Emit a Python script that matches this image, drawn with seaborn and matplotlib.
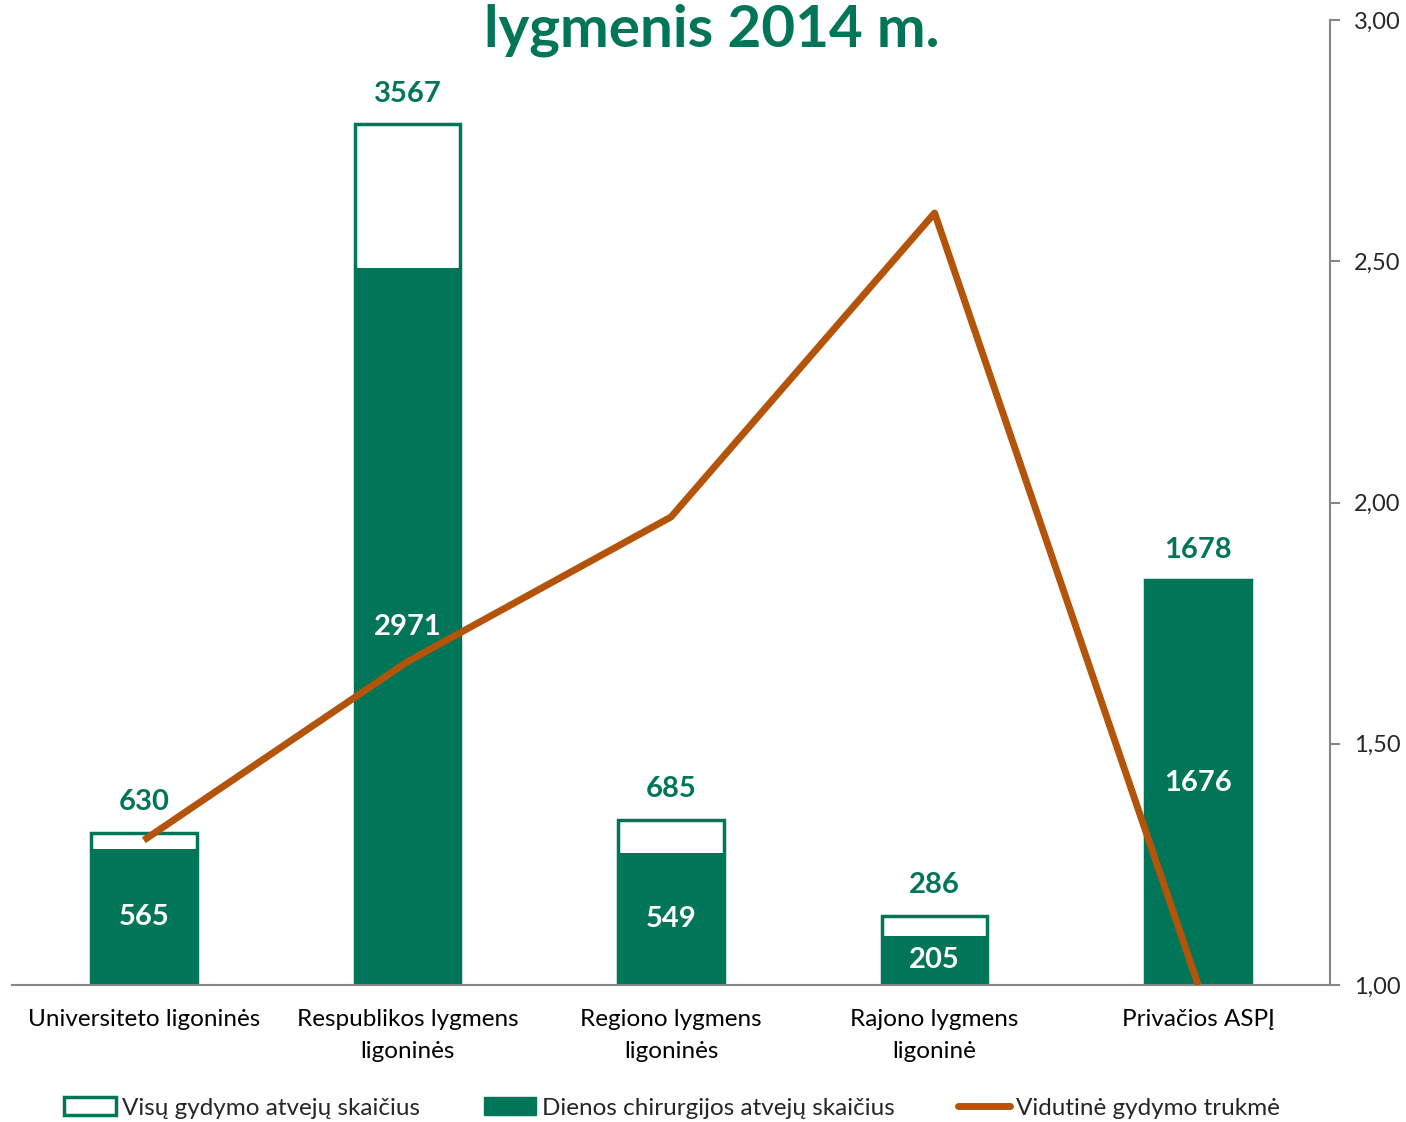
import numpy as np
import pandas as pd
import matplotlib
matplotlib.use("Agg")
import matplotlib.pyplot as plt
import seaborn as sns
from matplotlib.patches import Patch
from matplotlib.lines import Line2D

categories = ["Universiteto ligoninės", "Respublikos lygmens\nligoninės",
              "Regiono lygmens\nligoninės", "Rajono lygmens\nligoninė", "Privačios ASPĮ"]
total_cases = [630, 3567, 685, 286, 1678]
day_surgery = [565, 2971, 549, 205, 1676]
avg_duration = [1.30, 1.67, 1.97, 2.60, 1.00]
right_ticks = [1.0, 1.5, 2.0, 2.5, 3.0]
title = "lygmenis 2014 m."
legend_labels = ["Visų gydymo atvejų skaičius", "Dienos chirurgijos atvejų skaičius",
                 "Vidutinė gydymo trukmė"]

GREEN = "#007558"
ORANGE = "#B4530A"
GRAY = "#868686"

sns.set_theme(style="white")
plt.rcParams['font.family'] = ['Lato', 'DejaVu Sans']

fig = plt.figure(figsize=(14.06, 11.22), dpi=100)
ax = fig.add_axes([12/1406, 1-985/1122, (1330-12)/1406, (985-20)/1122])

df = pd.DataFrame({"cat": categories, "total": total_cases, "day": day_surgery})
sns.barplot(data=df, x="cat", y="total", color="white", edgecolor=GREEN,
            linewidth=2.5, width=0.4, saturation=1, ax=ax)
sns.barplot(data=df, x="cat", y="day", color=GREEN, edgecolor=GREEN,
            linewidth=0, width=0.4, saturation=1, ax=ax)
ax.set_ylim(0, 4000)
ax.set_xlim(-0.5, len(categories) - 0.5)
ax.set_xlabel("")
ax.set_ylabel("")
ax.set_yticks([])
for s in ["left", "top", "right"]:
    ax.spines[s].set_visible(False)
ax.spines["bottom"].set_color(GRAY)
ax.spines["bottom"].set_linewidth(1.5)
ax.tick_params(axis="x", length=0, labelsize=17.5, pad=17, colors="black")
for lbl in ax.get_xticklabels():
    lbl.set_linespacing(1.65)

for i, (t, d) in enumerate(zip(total_cases, day_surgery)):
    ax.annotate(str(t), (i, t), xytext=(0, 22), textcoords="offset points",
                ha="center", va="center", color=GREEN, fontsize=21, fontweight="bold")
    ax.text(i, d / 2, str(d), ha="center", va="center", color="white",
            fontsize=21, fontweight="bold")

ax2 = ax.twinx()
sns.lineplot(x=np.arange(len(categories)), y=avg_duration, color=ORANGE,
             linewidth=5, ax=ax2, solid_capstyle="butt")
ax2.set_ylim(1.0, 3.0)
ax2.set_yticks(right_ticks)
ax2.set_yticklabels([f"{v:.2f}".replace(".", ",") for v in right_ticks])
for s in ["left", "top", "bottom"]:
    ax2.spines[s].set_visible(False)
ax2.spines["right"].set_color(GRAY)
ax2.spines["right"].set_linewidth(1.5)
ax2.tick_params(axis="y", direction="out", length=7, width=1.5, color=GRAY,
                labelsize=17, pad=10, right=True, labelright=True)
ax2.set_xlim(-0.5, len(categories) - 0.5)

fig.text(0.506, 1 - 30/1122, title, ha="center", va="center", color=GREEN,
         fontsize=42, fontweight="bold")

handles = [Patch(facecolor="white", edgecolor=GREEN, linewidth=2.5),
           Patch(facecolor=GREEN, edgecolor=GREEN),
           Line2D([0], [0], color=ORANGE, linewidth=5)]
fig.legend(handles, legend_labels, loc="center", bbox_to_anchor=(0.478, 1 - 1108/1122),
           ncol=3, frameon=False, fontsize=17.5, handlelength=2.15, handleheight=0.7,
           handletextpad=0.25, columnspacing=2.6)

fig.savefig("out.png", dpi=100)
